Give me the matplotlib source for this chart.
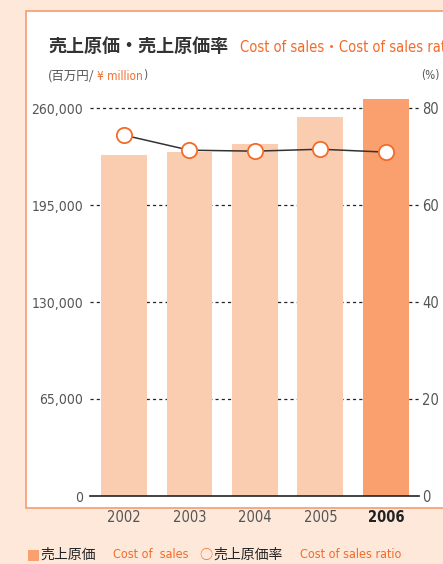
import matplotlib
matplotlib.use("Agg")
import matplotlib.pyplot as plt
from matplotlib.patches import Rectangle
import matplotlib.transforms as mtrans

years = ["2002", "2003", "2004", "2005", "2006"]
cost_of_sales = [228500, 230500, 236000, 254000, 266000]   # 百万円
cost_ratio = [74.4, 71.3, 71.1, 71.5, 70.9]                # %
left_ticks = [0, 65000, 130000, 195000, 260000]
right_ticks = [0, 20, 40, 60, 80]

BG = "#FDE8DA"
BORDER = "#F7A27A"
BAR = "#FBCDB0"
BAR_HI = "#F9A06E"
ORANGE = "#F26B2A"
GRAY = "#555555"
NARROW = ["DejaVu Sans"]
JP = ["Noto Sans CJK JP", "DejaVu Sans"]
ST = "condensed"

fig = plt.figure(figsize=(4.43, 5.64), dpi=100)
fig.patch.set_facecolor(BG)

# white panel with orange border
fig.patches.append(Rectangle((26 / 443, 1 - 508 / 564), 1.0, (508 - 11) / 564,
                             transform=fig.transFigure, facecolor="white",
                             edgecolor=BORDER, lw=1.3, zorder=-5))

ax = fig.add_axes([90 / 443, 68 / 564, 322 / 443, 388 / 564])
ax.set_facecolor("none")
x = list(range(len(years)))
colors = [BAR] * (len(years) - 1) + [BAR_HI]
bars = ax.bar(x, cost_of_sales, width=0.7, color=colors, zorder=2)
for b in bars:
    b.set_clip_on(False)
ax.set_xlim(-0.52, 4.4)
ax.set_ylim(0, 260000)
for s in ax.spines.values():
    s.set_visible(False)

# dashed grid lines, extending past the right edge
tr = mtrans.blended_transform_factory(ax.transAxes, ax.transData)
for v in left_ticks[1:]:
    ax.plot([0, 1.022], [v, v], transform=tr, color="#222222", lw=0.9,
            ls=(0, (2.5, 2.5)), clip_on=False, zorder=1)
ax.plot([0, 1.022], [0, 0], transform=tr, color="#222222", lw=1.2,
        clip_on=False, zorder=3)

ax.set_yticks(left_ticks)
ax.set_yticklabels([f"{v:,}" for v in left_ticks], family=NARROW, fontstretch=ST,
                   fontsize=10, color=GRAY)
ax.tick_params(axis="y", length=0, pad=5)
ax.set_xticks(x)
ax.set_xticklabels(years, family=NARROW, fontstretch=ST, fontsize=10.5, color=GRAY)
ax.get_xticklabels()[-1].set_fontweight("bold")
ax.get_xticklabels()[-1].set_color("#222222")
ax.tick_params(axis="x", length=0, pad=10)

ax2 = ax.twinx()
ax2.set_ylim(0, 80)
ax2.set_yticks(right_ticks)
ax2.set_yticklabels([str(v) for v in right_ticks], family=NARROW, fontstretch=ST,
                    fontsize=10.5, color=GRAY)
ax2.tick_params(axis="y", length=0, pad=7.5)
for s in ax2.spines.values():
    s.set_visible(False)
ax2.plot(x, cost_ratio, color="#333333", lw=1.1, marker="o", ms=11,
         mfc="white", mec=ORANGE, mew=1.3, zorder=4)

# titles
fig.text(48 / 443, 1 - 47 / 564, "売上原価・売上原価率", family=JP, fontsize=13,
         fontweight="bold", color="#333333", va="center")
fig.text(240 / 443, 1 - 47 / 564, "Cost of sales・Cost of sales ratio",
         family=["DejaVu Sans", "Noto Sans CJK JP"], fontstretch=ST,
         fontsize=10.5, color=ORANGE, va="center")
fig.text(48 / 443, 1 - 76 / 564, "(百万円/", family=JP, fontsize=9,
         color=GRAY, va="center")
fig.text(97 / 443, 1 - 76 / 564, "¥ million", family=NARROW, fontstretch=ST,
         fontsize=8.5, color=ORANGE, va="center")
fig.text(143 / 443, 1 - 76 / 564, ")", family=NARROW, fontstretch=ST,
         fontsize=8.5, color=GRAY, va="center")
fig.text(421 / 443, 1 - 76 / 564, "(%)", family=NARROW, fontstretch=ST,
         fontsize=8.5, color=GRAY, va="center")

# legend
fig.patches.append(Rectangle((28 / 443, 1 - 561 / 564), 11 / 443, 11 / 564,
                             transform=fig.transFigure, facecolor=BAR_HI,
                             edgecolor="none"))
ly = 1 - 555 / 564
fig.text(40 / 443, ly, "売上原価", family=JP, fontsize=10, color="#222222", va="center")
fig.text(113 / 443, ly, "Cost of  sales", family=NARROW, fontstretch=ST,
         fontsize=9, color=ORANGE, va="center")
fig.text(199 / 443, ly, "○", family=JP, fontsize=9.5, color=ORANGE, va="center")
fig.text(213 / 443, ly, "売上原価率", family=JP, fontsize=10, color="#222222", va="center")
fig.text(300 / 443, ly, "Cost of sales ratio", family=NARROW, fontstretch=ST,
         fontsize=9, color=ORANGE, va="center")

fig.savefig("out.png", dpi=100, facecolor=BG)
